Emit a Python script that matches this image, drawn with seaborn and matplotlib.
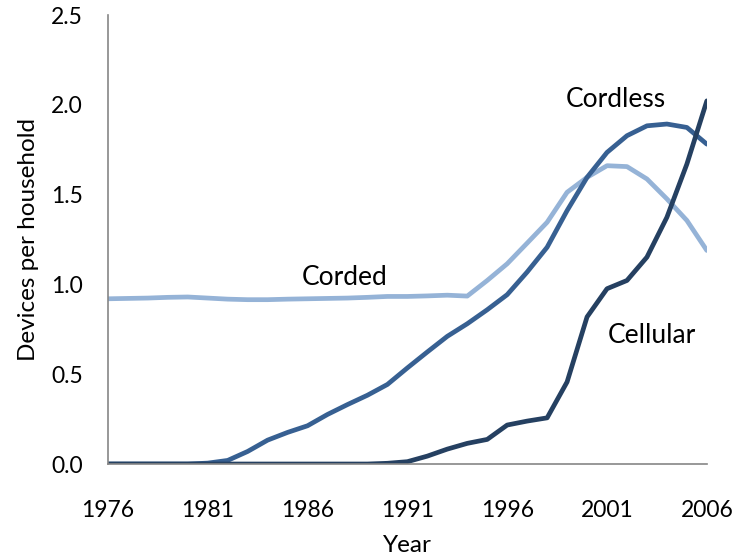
import matplotlib
matplotlib.use("Agg")
import matplotlib.pyplot as plt
import seaborn as sns
import pandas as pd

years = list(range(1976, 2007))
corded = [0.92, 0.922, 0.924, 0.928, 0.930, 0.924, 0.918, 0.915, 0.915, 0.918, 0.920,
          0.922, 0.924, 0.928, 0.933, 0.933, 0.936, 0.940, 0.935, 1.022, 1.115,
          1.230, 1.346, 1.513, 1.596, 1.661, 1.656, 1.587, 1.476, 1.356, 1.189]
cordless = [0.0, 0.0, 0.0, 0.0, 0.0, 0.005, 0.02, 0.07, 0.133, 0.176, 0.213,
            0.276, 0.331, 0.383, 0.443, 0.535, 0.624, 0.711, 0.781, 0.859, 0.943,
            1.069, 1.207, 1.411, 1.596, 1.735, 1.828, 1.883, 1.893, 1.874, 1.781]
cellular = [0.0, 0.0, 0.0, 0.0, 0.0, 0.0, 0.0, 0.0, 0.0, 0.0, 0.0,
            0.0, 0.0, 0.0, 0.004, 0.013, 0.044, 0.083, 0.115, 0.137, 0.217,
            0.239, 0.257, 0.457, 0.819, 0.976, 1.022, 1.152, 1.374, 1.670, 2.022]
series_names = ["Corded", "Cordless", "Cellular"]
x_ticks = [1976, 1981, 1986, 1991, 1996, 2001, 2006]
y_ticks = [0.0, 0.5, 1.0, 1.5, 2.0, 2.5]

df = pd.DataFrame({
    "Year": years * 3,
    "Devices": corded + cordless + cellular,
    "Type": [series_names[0]] * len(years) + [series_names[1]] * len(years) + [series_names[2]] * len(years),
})

sns.set_theme(style="white")
plt.rcParams["font.family"] = ["Lato", "DejaVu Sans"]

fig = plt.figure(figsize=(7.34, 5.6), dpi=100)
ax = fig.add_axes([0.147, 0.1714, 0.816, 0.8018])

palette = {"Corded": "#95B3D7", "Cordless": "#376092", "Cellular": "#254061"}
sns.lineplot(data=df, x="Year", y="Devices", hue="Type", palette=palette,
             linewidth=3.4, legend=False, ax=ax, clip_on=True)

ax.set_xlim(1976, 2006)
ax.set_ylim(0, 2.5)
ax.set_xticks(x_ticks)
ax.set_yticks(y_ticks)
ax.set_yticklabels([f"{v:.1f}" for v in y_ticks])

for s in ["top", "right"]:
    ax.spines[s].set_visible(False)
for s in ["left", "bottom"]:
    ax.spines[s].set_color("#868686")
    ax.spines[s].set_linewidth(1.2)

ax.tick_params(axis="both", direction="out", length=6, width=1.2, color="#868686",
               labelsize=16.5, labelcolor="black")
ax.tick_params(axis="x", pad=20)
ax.tick_params(axis="y", pad=12)

ax.set_xlabel("Year", fontsize=17.5, color="black", labelpad=10)
ax.set_ylabel("Devices per household", fontsize=17.5, color="black", labelpad=9)

ax.text(1987.85, 1.036, "Corded", fontsize=19, ha="center", va="center", color="black")
ax.text(2001.45, 2.032, "Cordless", fontsize=19, ha="center", va="center", color="black")
ax.text(2003.25, 0.718, "Cellular", fontsize=19, ha="center", va="center", color="black")

fig.savefig("out.png", dpi=100)
